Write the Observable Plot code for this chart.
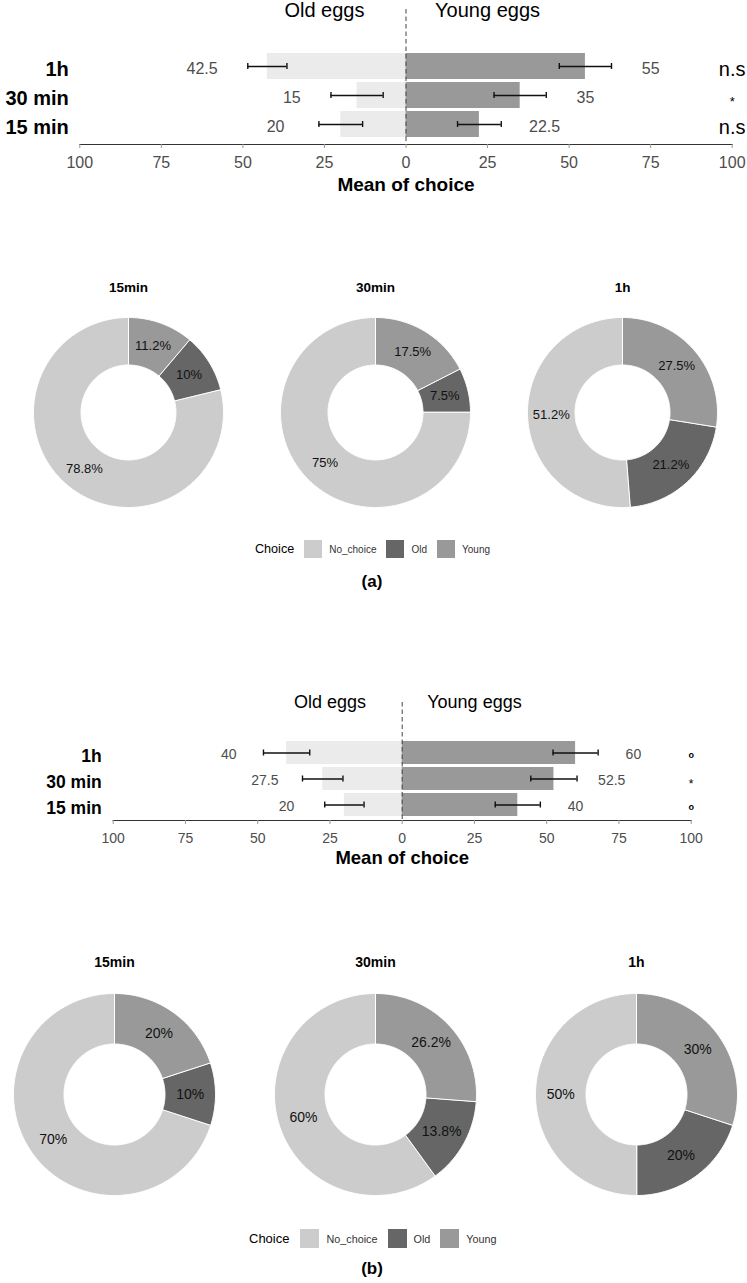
<!DOCTYPE html>
<html><head><meta charset="utf-8">
<script src="https://cdn.jsdelivr.net/npm/d3@7"></script>
<script src="https://cdn.jsdelivr.net/npm/@observablehq/plot@0.6"></script>
<style>
body{margin:0;background:#fff;}
#page{position:relative;width:747px;height:1283px;overflow:hidden;font-family:"Liberation Sans",Arial,sans-serif;color:#000;}
.abs{position:absolute;}
.lg{display:flex;align-items:center;white-space:nowrap;}
.lg > div{min-height:0 !important;margin:0 !important;display:flex !important;align-items:center !important;font-family:"Liberation Sans",Arial,sans-serif !important;color:#333 !important;}
.lg > div > span{margin-right:10px !important;display:inline-flex !important;align-items:center !important;}
.lg > div > span > svg{margin-right:7px !important;}
.cap{font-weight:bold;font-size:17px;text-align:center;width:200px;line-height:20px;}
</style></head><body><div id="page"></div>
<script>
// ---------- data ----------
const barTimes = ["1h", "30 min", "15 min"];
const xTicks = [-100, -75, -50, -25, 0, 25, 50, 75, 100];
// panel (a)
const oldA = [42.5, 15, 20];
const youngA = [55, 35, 22.5];
const oldErrA = [6, 8, 6.7];
const youngErrA = [8, 8, 6.7];
const sigA = ["n.s", "*", "n.s"];
// panel (b)
const oldB = [40, 27.5, 20];
const youngB = [60, 52.5, 40];
const oldErrB = [8, 7, 6.8];
const youngErrB = [7.8, 8, 7.8];
const sigB = ["o", "*", "o"];
// donuts
const donutTimes = ["15min", "30min", "1h"];
const choiceOrder = ["Young", "Old", "No_choice"]; // clockwise from 12 o'clock
const legendChoices = ["No_choice", "Old", "Young"];
const choiceColors = ["#cccccc", "#666666", "#999999"];
const youngPctA = [11.2, 17.5, 27.5];
const oldPctA = [10, 7.5, 21.2];
const noPctA = [78.8, 75, 51.2];
const youngPctB = [20, 26.2, 30];
const oldPctB = [10, 13.8, 20];
const noPctB = [70, 60, 50];

const FONT = '"Liberation Sans", Arial, sans-serif';
const page = document.getElementById("page");
function place(el, left, top) { el.classList.add("abs"); el.style.left = left + "px"; el.style.top = top + "px"; page.appendChild(el); return el; }

// ---------- bar chart ----------
function barChart(c) {
  const rows = barTimes.map((t, i) => ({time: t, old: c.old[i], young: c.young[i], oe: c.oldErr[i], ye: c.youngErr[i], sig: c.sig[i]}));
  const caps = rows.flatMap(d => [-(d.old - d.oe), -(d.old + d.oe), d.young - d.ye, d.young + d.ye].map(x => ({time: d.time, x})));
  const eb = {stroke: "#111", strokeWidth: 1.4};
  return Plot.plot({
    width: 747, height: c.height,
    marginLeft: c.ml, marginRight: c.mr, marginTop: c.mt, marginBottom: c.mb,
    style: {fontFamily: FONT, background: "transparent", overflow: "visible"},
    x: {domain: [-100, 100]},
    y: {domain: barTimes, range: c.yRange, paddingInner: c.pad, paddingOuter: 0},
    marks: [
      Plot.barX(rows, {y: "time", x1: 0, x2: d => -d.old, fill: "#ebebeb"}),
      Plot.barX(rows, {y: "time", x1: 0, x2: "young", fill: "#999999"}),
      Plot.ruleX([0], {stroke: "#444", strokeDasharray: "4.5,3"}),
      Plot.ruleY(rows, {y: "time", x1: d => -(d.old - d.oe), x2: d => -(d.old + d.oe), ...eb}),
      Plot.ruleY(rows, {y: "time", x1: d => d.young - d.ye, x2: d => d.young + d.ye, ...eb}),
      Plot.tickX(caps, {x: "x", y: "time", insetTop: c.capInset, insetBottom: c.capInset, ...eb}),
      Plot.text(rows, {y: "time", x: d => -(d.old + 20), text: d => String(d.old), fill: "#4d4d4d", fontSize: c.fsVal, dy: c.dyTxt}),
      Plot.text(rows, {y: "time", x: d => d.young + 20, text: d => String(d.young), fill: "#4d4d4d", fontSize: c.fsVal, dy: c.dyTxt}),
      Plot.text(rows.filter(d => d.sig !== "*"), {y: "time", x: 100, text: "sig", fill: "#000", fontSize: c.fsSig, fontWeight: c.sigWeight, dy: c.dySig}),
      Plot.text(rows.filter(d => d.sig === "*"), {y: "time", x: 100, text: "sig", fill: "#000", fontSize: c.fsStar, dy: c.dyStar}),
      Plot.text(["Old eggs"], {x: -25, frameAnchor: "top", lineAnchor: "middle", dy: c.titleDy, fontSize: c.fsTitle, fill: "#000"}),
      Plot.text(["Young eggs"], {x: 25, frameAnchor: "top", lineAnchor: "middle", dy: c.titleDy, fontSize: c.fsTitle, fill: "#000"}),
      Plot.frame({anchor: "bottom", stroke: "#333", strokeWidth: 1.2}),
      Plot.axisX({ticks: xTicks, tickFormat: d => Math.abs(d), tickSize: 4, tickPadding: c.tickPad, fontSize: c.fsTick, fill: "#4d4d4d", stroke: "#999", label: null}),
      Plot.axisY({tickSize: 0, tickPadding: c.yPad, fontSize: c.fsRow, fontWeight: "bold", fill: "#000", label: null, dy: c.dyTxt + 1}),
      Plot.text(["Mean of choice"], {frameAnchor: "bottom", lineAnchor: "middle", dy: c.meanDy, fontSize: c.fsMean, fontWeight: "bold", fill: "#000"})
    ]
  });
}

// ---------- donut ----------
const HOLE = 0.5, LABEL_R = 0.75;
function donut(c, i) {
  const vals = {Young: c.young[i], Old: c.old[i], No_choice: c.no[i]};
  const total = d3.sum(choiceOrder, k => vals[k]);
  let cum = 0;
  const slices = choiceOrder.map(k => {
    const a0 = cum / total * 2 * Math.PI; cum += vals[k];
    const a1 = cum / total * 2 * Math.PI;
    return {choice: k, pct: vals[k], a0, a1};
  });
  const pts = slices.flatMap(s => {
    const n = Math.max(2, Math.ceil((s.a1 - s.a0) / (Math.PI / 180)));
    const angs = d3.range(n + 1).map(k => s.a0 + (s.a1 - s.a0) * k / n);
    return [
      ...angs.map(a => ({choice: s.choice, x: Math.sin(a), y: Math.cos(a)})),
      ...angs.slice().reverse().map(a => ({choice: s.choice, x: HOLE * Math.sin(a), y: HOLE * Math.cos(a)}))
    ];
  });
  const S = c.S, D = (S / 2) / c.R;
  return Plot.plot({
    width: S, height: S + c.mt,
    marginTop: c.mt, marginLeft: 0, marginRight: 0, marginBottom: 0,
    style: {fontFamily: FONT, background: "transparent", overflow: "visible"},
    x: {domain: [-D, D], axis: null},
    y: {domain: [-D, D], axis: null},
    color: {domain: legendChoices, range: choiceColors},
    marks: [
      Plot.line(pts, {x: "x", y: "y", z: "choice", fill: "choice", stroke: "#fff", strokeWidth: 1, curve: "linear-closed"}),
      Plot.text(slices, {x: d => LABEL_R * Math.sin((d.a0 + d.a1) / 2), y: d => LABEL_R * Math.cos((d.a0 + d.a1) / 2), text: d => d.pct + "%", fontSize: c.fsLab, fill: "#111"}),
      Plot.text([donutTimes[i]], {frameAnchor: "top", lineAnchor: "middle", dy: c.titleDy, fontSize: c.fsTitle, fontWeight: "bold", fill: "#000"})
    ]
  });
}

// ---------- legend ----------
function legend(c) {
  const wrap = document.createElement("div");
  wrap.className = "lg";
  wrap.style.height = c.sw + "px";
  const lab = document.createElement("span");
  lab.textContent = "Choice";
  lab.style.fontSize = c.fsTitle + "px";
  lab.style.marginRight = c.gap + "px";
  wrap.appendChild(lab);
  wrap.appendChild(Plot.legend({color: {domain: legendChoices, range: choiceColors}, legend: "swatches", swatchSize: c.sw, style: {fontSize: c.fs + "px", fontFamily: FONT, color: "#333"}}));
  return wrap;
}
function caption(t) { const d = document.createElement("div"); d.className = "cap"; d.textContent = t; return d; }

// ---------- panel (a) ----------
place(barChart({
  old: oldA, young: youngA, oldErr: oldErrA, youngErr: youngErrA, sig: sigA,
  height: 200, ml: 79.3, mr: 15.3, mt: 9, mb: 56, yRange: [51.7, 138.3], pad: 0.1, capInset: 10,
  fsVal: 16, fsTick: 16, tickPad: 8, fsRow: 20, yPad: 11, fsTitle: 20, titleDy: 1.3,
  meanDy: 40, fsMean: 19, fsSig: 20, sigWeight: "normal", fsStar: 13, dyTxt: 2, dySig: 3, dyStar: 6
}), 0, 0);
const cfgA = {young: youngPctA, old: oldPctA, no: noPctA, S: 210, R: 95, mt: 35, titleDy: -19.5, fsLab: 13, fsTitle: 13.5};
[128, 375, 622].forEach((cx, i) => place(donut(cfgA, i), cx - cfgA.S / 2, 412.3 - cfgA.S / 2 - cfgA.mt));
place(legend({sw: 18, fs: 10, fsTitle: 12.6, gap: 10}), 255, 540);
place(caption("(a)"), 272, 572);

// ---------- panel (b) ----------
place(barChart({
  old: oldB, young: youngB, oldErr: oldErrB, youngErr: youngErrB, sig: sigB,
  height: 190, ml: 112.7, mr: 56.3, mt: 12, mb: 60, yRange: [50, 126.7], pad: 0.127, capInset: 8.5,
  fsVal: 14, fsTick: 14, tickPad: 8.8, fsRow: 17.5, yPad: 11.5, fsTitle: 18, titleDy: 0.2,
  meanDy: 37.7, fsMean: 18.5, fsSig: 9, sigWeight: "bold", fsStar: 12, dyTxt: 2, dySig: 2, dyStar: 5
}), 0, 690);
const cfgB = {young: youngPctB, old: oldPctB, no: noPctB, S: 222, R: 101, mt: 35, titleDy: -20.8, fsLab: 14, fsTitle: 14};
[114, 375.4, 636].forEach((cx, i) => place(donut(cfgB, i), cx - cfgB.S / 2, 1094 - cfgB.S / 2 - cfgB.mt));
place(legend({sw: 19, fs: 10.8, fsTitle: 13, gap: 11}), 249, 1229);
place(caption("(b)"), 272, 1259);
</script>
</body></html>
